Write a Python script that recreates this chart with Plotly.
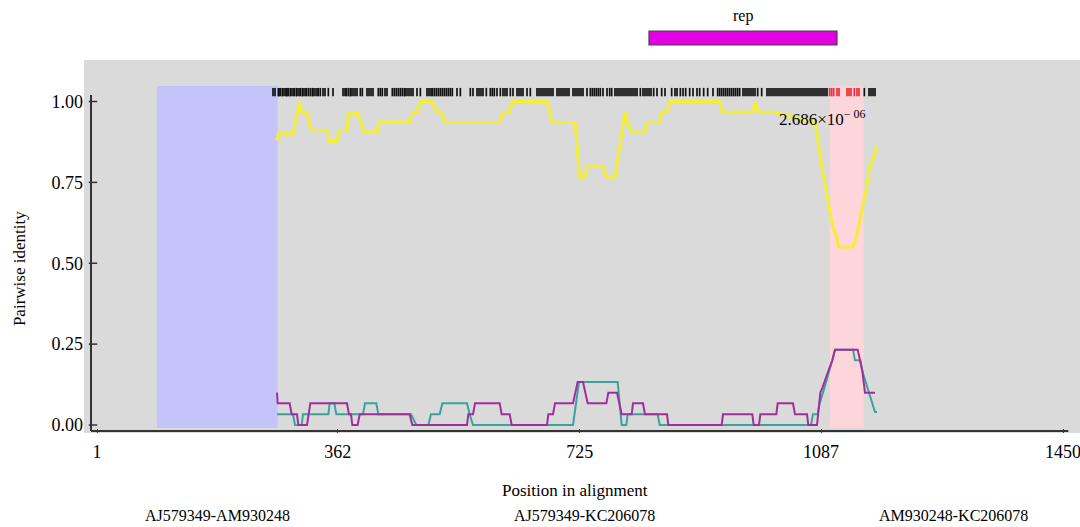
import plotly.graph_objects as go

# ---------------- data ----------------
pair_labels = ["AJ579349-AM930248", "AJ579349-KC206078", "AM930248-KC206078"]
pair_colors = ["#F3EF34", "#A02F9C", "#3AA39E"]

pos_yellow = [271, 273, 295, 301, 305, 308, 316, 322, 347, 350, 361, 364, 376, 378, 392,
              402, 421, 424, 470, 475, 482, 486, 503, 511, 518, 523, 605, 610, 620, 624,
              676, 684, 718, 725, 733, 736, 760, 765, 778, 793, 797, 803, 823, 826, 845,
              848, 856, 860, 935, 939, 984, 988, 993, 1018, 1040, 1078, 1081, 1088, 1096,
              1100, 1105, 1111, 1113, 1135, 1138, 1145, 1150, 1156, 1160, 1165, 1171]
id_yellow = [0.88, 0.90, 0.90, 0.967, 1.0, 0.967, 0.967, 0.91, 0.91, 0.876, 0.876, 0.91, 0.91, 0.964, 0.964,
             0.906, 0.906, 0.937, 0.937, 0.967, 0.967, 1.0, 1.0, 0.967, 0.967, 0.935, 0.935, 0.967, 0.967, 1.0,
             1.0, 0.935, 0.935, 0.767, 0.767, 0.80, 0.80, 0.767, 0.767, 0.967, 0.933, 0.905, 0.905, 0.935, 0.935,
             0.967, 0.967, 1.0, 1.0, 0.967, 0.967, 0.998, 0.967, 0.967, 0.955, 0.935, 0.90, 0.80, 0.71,
             0.67, 0.61, 0.58, 0.55, 0.55, 0.565, 0.63, 0.68, 0.74, 0.80, 0.82, 0.865]

pos_purple = [271, 272, 290, 293, 301, 303, 316, 318, 321, 376, 379, 382, 384, 392, 395,
              470, 474, 556, 558, 565, 568, 605, 608, 620, 623, 676, 678, 685, 688, 715,
              719, 722, 730, 734, 737, 765, 768, 781, 785, 788, 803, 805, 820, 823, 856,
              858, 938, 940, 984, 986, 994, 996, 1020, 1022, 1045, 1048, 1066, 1068, 1081,
              1083, 1086, 1089, 1093, 1098, 1104, 1108, 1142, 1146, 1149, 1151, 1153, 1168]
id_purple = [0.10, 0.067, 0.067, 0.033, 0.033, 0.0, 0.0, 0.033, 0.067, 0.067, 0.033, 0.033, 0.0, 0.0, 0.033,
             0.033, 0.0, 0.0, 0.033, 0.033, 0.067, 0.067, 0.033, 0.033, 0.0, 0.0, 0.033, 0.033, 0.067, 0.067,
             0.10, 0.133, 0.133, 0.10, 0.067, 0.067, 0.10, 0.10, 0.067, 0.033, 0.033, 0.067, 0.067, 0.033, 0.033,
             0.0, 0.0, 0.033, 0.033, 0.0, 0.0, 0.033, 0.033, 0.067, 0.067, 0.033, 0.033, 0.0, 0.0,
             0.033, 0.10, 0.115, 0.14, 0.167, 0.20, 0.233, 0.233, 0.20, 0.167, 0.133, 0.10, 0.10]

pos_teal = [271, 295, 298, 308, 310, 348, 350, 357, 360, 400, 403, 420, 423, 472, 480,
            498, 502, 515, 519, 556, 560, 565, 715, 720, 724, 782, 785, 788, 795, 797,
            842, 845, 1072, 1075, 1082, 1085, 1090, 1096, 1100, 1104, 1108, 1135, 1138,
            1146, 1149, 1153, 1158, 1163, 1168, 1171]
id_teal = [0.033, 0.033, 0.0, 0.0, 0.033, 0.033, 0.067, 0.067, 0.033, 0.033, 0.067, 0.067, 0.033, 0.033, 0.0,
           0.0, 0.033, 0.033, 0.067, 0.067, 0.033, 0.0, 0.0, 0.067, 0.133, 0.133, 0.067, 0.0, 0.0, 0.033,
           0.033, 0.0, 0.0, 0.033, 0.033, 0.067, 0.10, 0.14, 0.167, 0.20, 0.233, 0.233, 0.20,
           0.20, 0.167, 0.14, 0.10, 0.067, 0.04, 0.04]

x_ticks = [1, 362, 725, 1087, 1450]
y_ticks = [0.0, 0.25, 0.50, 0.75, 1.00]
y_tick_text = ["0.00", "0.25", "0.50", "0.75", "1.00"]

blue_region = [91, 272]
pink_region = [1100, 1151]
region_top = 1.048
rep_gene = [829, 1111]
rep_label = "rep"
pvalue_text = "2.686×10<sup>− 06</sup>"
pvalue_pos = 1021
pvalue_y = 0.949

sites_black = [265, 268, 273, 274, 276, 279, 280, 283, 285, 286, 288, 291, 292, 295, 297, 300, 301,
               304, 306, 309, 310, 313, 315, 318, 321, 324, 325, 328, 331, 333, 336, 340, 343, 348,
               355, 370, 373, 375, 378, 381, 382, 385, 388, 391, 396, 399, 406, 409, 412, 415, 423,
               426, 429, 433, 436, 444, 447, 450, 453, 456, 459, 462, 463, 466, 469, 472, 475, 481,
               486, 496, 499, 502, 504, 507, 510, 513, 516, 519, 522, 525, 528, 531, 534, 541, 546,
               561, 565, 571, 574, 577, 580, 585, 591, 594, 597, 601, 606, 610, 613, 616, 621, 625,
               631, 634, 637, 640, 646, 651, 661, 664, 667, 670, 673, 676, 679, 682, 685, 691, 694,
               697, 700, 703, 706, 709, 715, 718, 721, 724, 727, 730, 736, 741, 744, 747, 750, 753,
               756, 760, 766, 770, 773, 778, 781, 784, 787, 790, 793, 796, 799, 802, 805, 808, 811,
               816, 820, 823, 826, 829, 832, 836, 841, 848, 853, 863, 868, 871, 876, 880, 884, 890,
               895, 901, 905, 911, 917, 925, 932, 935, 938, 941, 944, 947, 950, 953, 956, 959, 962,
               965, 970, 973, 976, 979, 982, 985, 988, 992, 998, 1006, 1009, 1012, 1015, 1018, 1021,
               1024, 1027, 1030, 1033, 1036, 1039, 1042, 1045, 1048, 1051, 1054, 1057, 1060, 1063,
               1066, 1069, 1072, 1075, 1078, 1081, 1084, 1087, 1090, 1093, 1096, 1152, 1159, 1162,
               1165, 1168]
sites_red = [1100, 1103, 1106, 1111, 1114, 1126, 1129, 1132, 1137, 1141, 1144]
site_row = 1.029

SERIF = "Liberation Serif, Times New Roman, serif"

fig = go.Figure()

for xs, ys, col, w in [(pos_yellow, id_yellow, pair_colors[0], 3),
                       (pos_teal, id_teal, pair_colors[2], 2),
                       (pos_purple, id_purple, pair_colors[1], 2)]:
    fig.add_trace(go.Scatter(x=xs, y=ys, mode="lines",
                             line=dict(color=col, width=w), hoverinfo="skip"))

fig.add_trace(go.Scatter(x=sites_black, y=[site_row] * len(sites_black), mode="markers",
                         marker=dict(symbol="line-ns", size=6,
                                     line=dict(color="#111111", width=1.7))))
fig.add_trace(go.Scatter(x=sites_red, y=[site_row] * len(sites_red), mode="markers",
                         marker=dict(symbol="line-ns", size=6,
                                     line=dict(color="#E8303A", width=1.7))))

# y tick marks next to the axis line
fig.add_trace(go.Scatter(x=[-5] * len(y_ticks), y=y_ticks, mode="markers",
                         marker=dict(symbol="line-ew", size=6,
                                     line=dict(color="#333333", width=1.5))))

shapes = [
    dict(type="rect", xref="x", yref="y", x0=blue_region[0], x1=blue_region[1],
         y0=-0.009, y1=region_top, fillcolor="#C4C4FA", line=dict(width=0), layer="below"),
    dict(type="rect", xref="x", yref="y", x0=pink_region[0], x1=pink_region[1],
         y0=-0.009, y1=region_top, fillcolor="#FCD6DA", line=dict(width=0), layer="below"),
    dict(type="rect", xref="x", yref="paper", x0=rep_gene[0], x1=rep_gene[1],
         y0=1.0402, y1=1.0777, fillcolor="#E300E3", line=dict(color="#444444", width=1.2)),
    dict(type="line", xref="x", yref="y", x0=-8, x1=-8, y0=-0.0185, y1=1.02,
         line=dict(color="#333333", width=2)),
    dict(type="line", xref="x", yref="y", x0=-8, x1=1458, y0=-0.0185, y1=-0.0185,
         line=dict(color="#333333", width=2)),
]

annotations = [
    dict(x=pvalue_pos, y=pvalue_y, xref="x", yref="y", text=pvalue_text, showarrow=False,
         xanchor="left", yanchor="middle", font=dict(family=SERIF, size=17, color="black")),
    dict(x=sum(rep_gene) / 2, y=1.118, xref="x", yref="paper", text=rep_label, showarrow=False,
         xanchor="center", yanchor="middle", font=dict(family=SERIF, size=16, color="black")),
    dict(x=-0.0653, y=0.442, xref="paper", yref="paper", text="Pairwise identity", textangle=-90,
         showarrow=False, xanchor="center", yanchor="middle",
         font=dict(family=SERIF, size=17, color="black")),
    dict(x=0.493, y=-0.153, xref="paper", yref="paper", text="Position in alignment",
         showarrow=False, xanchor="center", yanchor="middle",
         font=dict(family=SERIF, size=17, color="black")),
]
for lab, xp in zip(pair_labels, [0.1345, 0.503, 0.8725]):
    annotations.append(dict(x=xp, y=-0.2225, xref="paper", yref="paper", text=lab,
                            showarrow=False, xanchor="center", yanchor="middle",
                            font=dict(family=SERIF, size=16, color="black")))

fig.update_layout(
    width=1080, height=527,
    margin=dict(l=84, r=0, t=60, b=94),
    paper_bgcolor="white", plot_bgcolor="#DADADA",
    showlegend=False,
    shapes=shapes, annotations=annotations,
    xaxis=dict(range=[-18.5, 1475.5], showgrid=False, zeroline=False, showline=False,
               tickvals=x_ticks, ticks="inside", ticklen=4, tickcolor="#333333",
               ticklabeloverflow="allow",
               tickfont=dict(family=SERIF, size=18, color="black"), ticklabelstandoff=6),
    yaxis=dict(range=[-0.0247, 1.1283], showgrid=False, zeroline=False, showline=False,
               tickvals=y_ticks, ticktext=y_tick_text, ticks="",
               tickfont=dict(family=SERIF, size=18, color="black")),
)

fig.write_html("out.html")
